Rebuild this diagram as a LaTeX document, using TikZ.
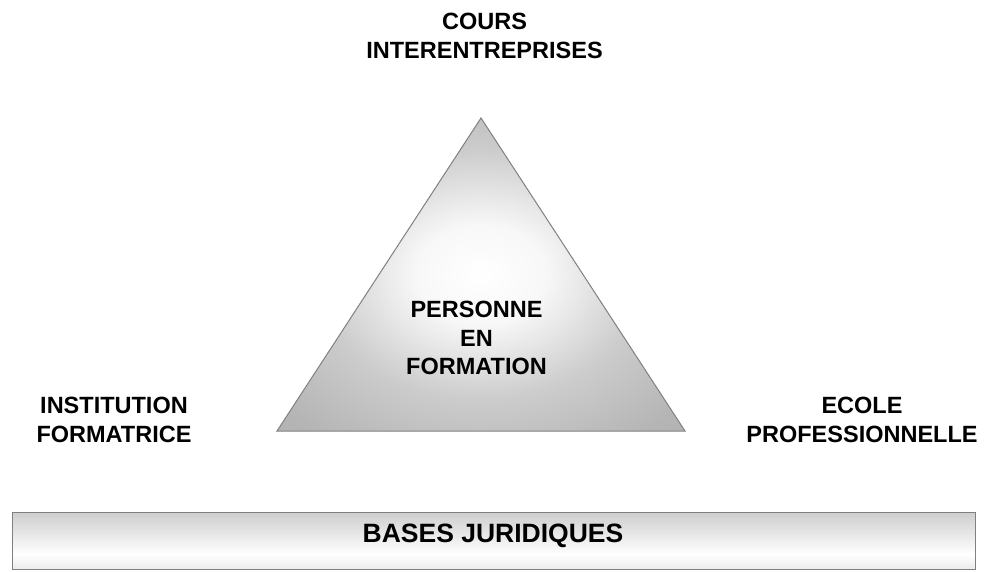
\documentclass[tikz,border=0pt]{standalone}
\usepackage{fontspec}
\setmainfont{Liberation Sans}
\pgfdeclareradialshading{trishade}{\pgfpoint{0bp}{0bp}}{color(0bp)=(white); color(8bp)=(white!97!black); color(20bp)=(gray!40); color(32bp)=(gray!58); color(50bp)=(gray!68)}
\pgfdeclareverticalshading{barshade}{100bp}{color(0bp)=(gray!45); color(38bp)=(white); color(100bp)=(gray!65)}
\begin{document}
\begin{tikzpicture}[x=1pt,y=-1pt,
  lbl/.style={font=\fontsize{23.5}{28.5}\selectfont\bfseries, align=center, inner sep=0pt, anchor=north},
  edge/.style={draw=black!50, line width=1pt}]
\useasboundingbox (0,0) rectangle (984,572);
% triangle
\coordinate (apex) at (481,118);
\coordinate (bl) at (277,431);
\coordinate (br) at (685,431);
\shade[shading=trishade] (apex) -- (bl) -- (br) -- cycle;
\draw[edge, line join=miter] (apex) -- (bl) -- (br) -- cycle;
% bar
\coordinate (barA) at (12,512);
\coordinate (barB) at (975,569);
\shade[shading=barshade] (barA) rectangle (barB);
\draw[edge] (barA) rectangle (barB);
% labels
\node[lbl] (cours) at (484.5,13) {COURS\\INTERENTREPRISES};
\node[lbl] (inst) at (114,397) {INSTITUTION\\FORMATRICE};
\node[lbl] (ecole) at (862,397) {ECOLE\\PROFESSIONNELLE};
\node[lbl] (pers) at (476.5,301) {PERSONNE\\EN\\FORMATION};
\node[lbl, font=\fontsize{26.5}{30}\selectfont\bfseries] (bases) at (493,524) {BASES JURIDIQUES};
\end{tikzpicture}
\end{document}
